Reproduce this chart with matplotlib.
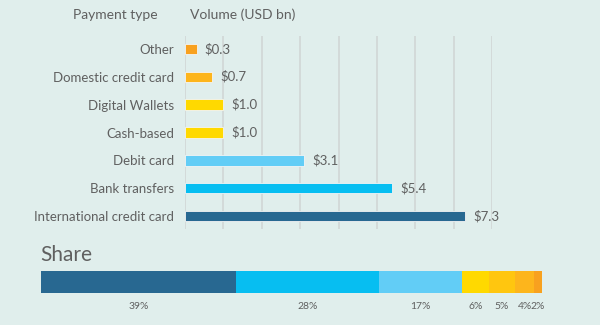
import matplotlib.pyplot as plt

plt.rcParams['font.family'] = ['Lato', 'DejaVu Sans']

BG = '#e0eeec'
TXT = '#606060'

# top chart, listed top to bottom
categories = ['Other', 'Domestic credit card', 'Digital Wallets', 'Cash-based',
              'Debit card', 'Bank transfers', 'International credit card']
volumes = [0.3, 0.7, 1.0, 1.0, 3.1, 5.4, 7.3]
bar_colors = ['#f8a11f', '#fdb51c', '#ffd900', '#ffd900', '#62cdf6', '#07bef1', '#286891']

# share bar, left to right (labels as printed)
share_labels = [39, 28, 17, 6, 5, 4, 2]
share_colors = ['#286891', '#07bef1', '#62cdf6', '#ffd900', '#ffc60f', '#fdb51c', '#f8a11f']

fig = plt.figure(figsize=(6, 3.25), dpi=100, facecolor=BG)

ax = fig.add_axes([185 / 600, 1 - 229 / 325, 307 / 600, 193 / 325])
ax.set_facecolor(BG)
ypos = range(len(categories))
ax.barh(ypos, volumes, height=0.37, color=bar_colors, edgecolor='#f4f4f4', linewidth=0.6, zorder=3)
for y, v in zip(ypos, volumes):
    ax.annotate(f'${v:.1f}', (v, y), xytext=(6, 0), textcoords='offset points',
                va='center', ha='left', fontsize=9.5, color=TXT)
ax.set_xlim(0, 8)
ax.set_ylim(6.46, -0.46)
ax.set_xticks(range(0, 9))
ax.set_xticklabels([])
ax.set_yticks(list(ypos))
ax.set_yticklabels(categories, fontsize=9.5, color=TXT)
ax.tick_params(length=0, pad=8)
ax.grid(axis='x', color='#d2d8d8', linewidth=1.3, zorder=0)
for s in ax.spines.values():
    s.set_visible(False)

fig.text(115 / 600, 1 - 15 / 325, 'Payment type', ha='center', va='center', fontsize=10, color=TXT)
fig.text(190 / 600, 1 - 15 / 325, 'Volume (USD bn)', ha='left', va='center', fontsize=10, color=TXT)
fig.text(40 / 600, 1 - 255 / 325, 'Share', ha='left', va='center', fontsize=15, color=TXT)

# segment widths follow the volumes, largest first
seg = volumes[::-1]
ax2 = fig.add_axes([41 / 600, 1 - 293 / 325, 501 / 600, 22 / 325])
ax2.set_facecolor(BG)
left = 0
for w, lab, c in zip(seg, share_labels, share_colors):
    ax2.barh(0, w, left=left, height=1, color=c, edgecolor='none')
    ax2.text(left + w / 2, -1.1, f'{lab}%', ha='center', va='center', fontsize=7.5, color=TXT)
    left += w
ax2.set_xlim(0, sum(seg))
ax2.set_ylim(-0.5, 0.5)
ax2.axis('off')

fig.savefig('out.png', dpi=100, facecolor=BG)
